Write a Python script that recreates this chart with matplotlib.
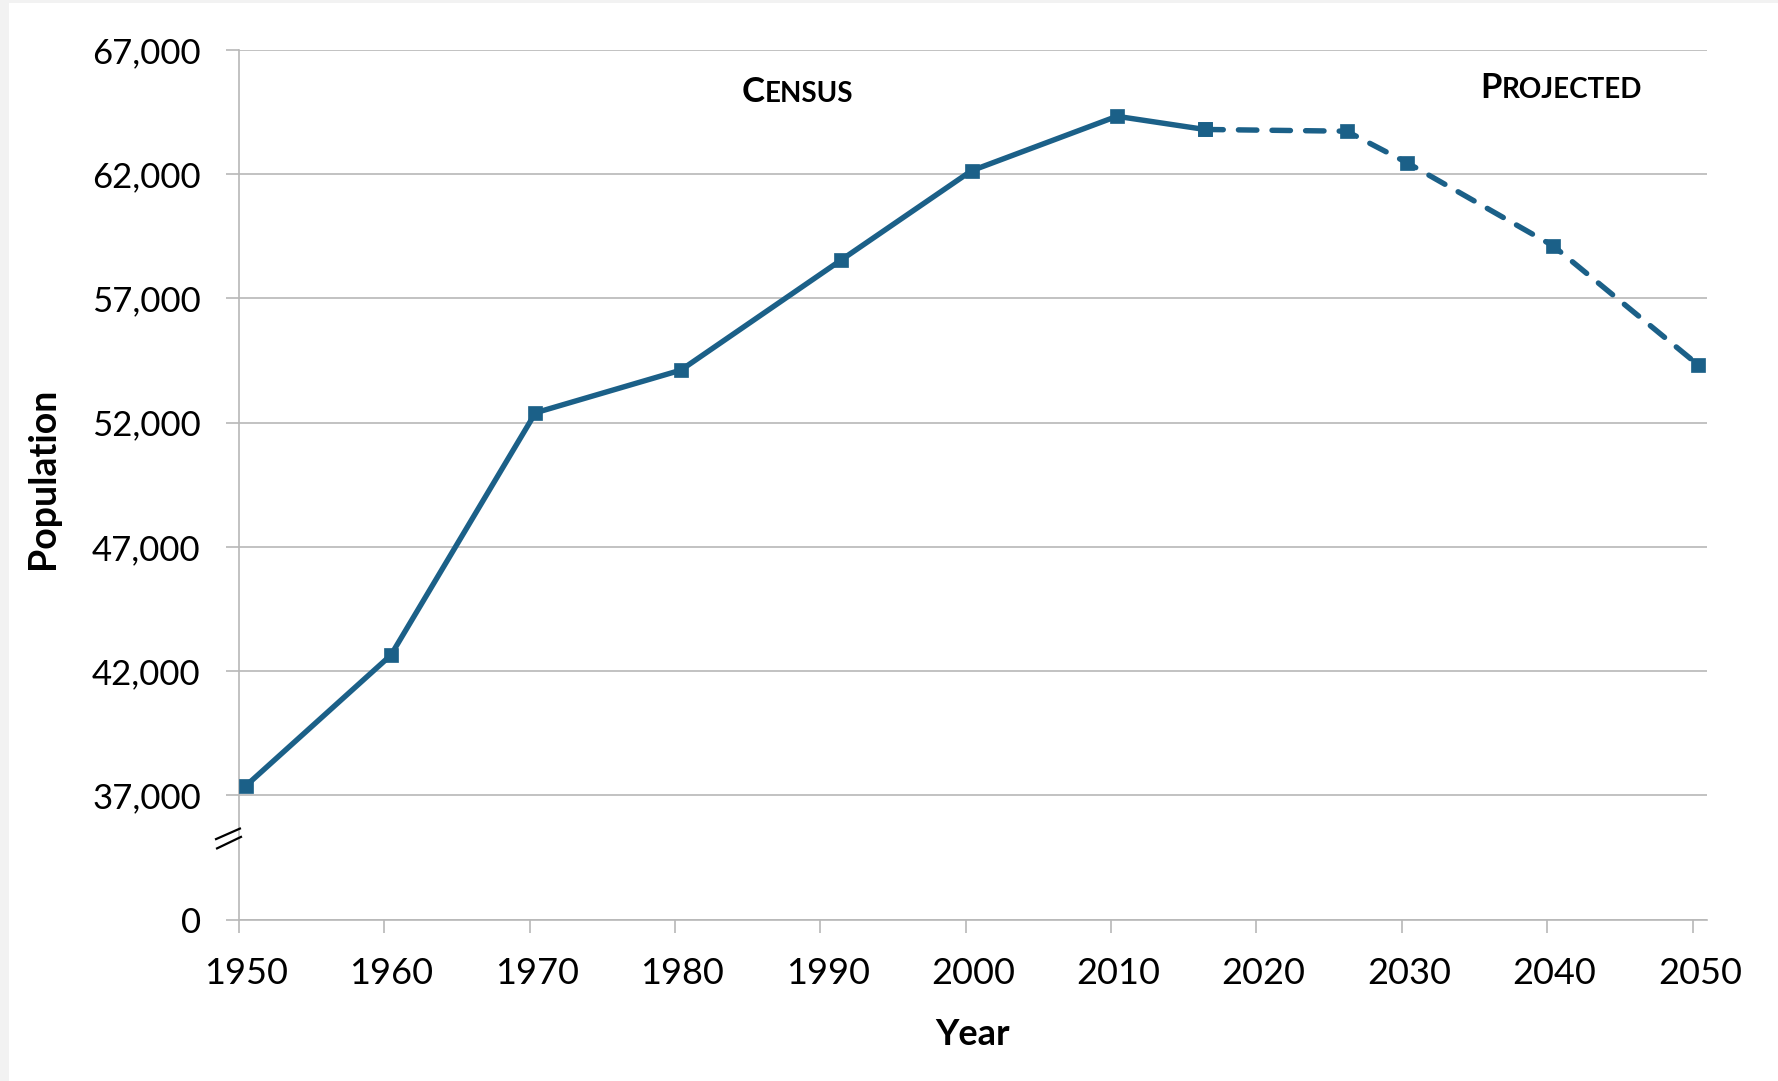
import matplotlib
matplotlib.use('Agg')
import matplotlib.pyplot as plt
from matplotlib.patches import Rectangle
from matplotlib.path import Path
from matplotlib.transforms import blended_transform_factory, offset_copy

# census counts and projections (x = point position in years)
years = [1950.45, 1960.45, 1970.4, 1980.4, 1991.4, 2000.4, 2010.4,
         2016.45, 2026.2, 2030.35, 2040.4, 2050.4]
population = [37375, 42645, 52400, 54115, 58535, 62140, 64330,
              63800, 63730, 62465, 59120, 54320]
split = 7  # first projected segment starts here

tick_years = list(range(1950, 2051, 10))
# broken axis: the bottom row (32,000 on the scale) is shown as 0
y_ticks = [32000, 37000, 42000, 47000, 52000, 57000, 62000, 67000]
y_labels = ['0', '37,000', '42,000', '47,000', '52,000', '57,000', '62,000', '67,000']

line_color = '#1b6088'
grid_color = '#b8b8b8'

plt.rcParams['font.family'] = ['Lato', 'DejaVu Sans']

fig = plt.figure(figsize=(17.78, 10.81), dpi=100, facecolor='#f2f2f2')
fig.patches.append(Rectangle((9 / 1778, 0), 1, 1 - 3 / 1081, transform=fig.transFigure,
                             facecolor='white', edgecolor='none', zorder=-10))
ax = fig.add_axes([0.1344, 0.1492, 0.8257, 0.8046])
ax.set_xlim(1950, 2051)
ax.set_ylim(32000, 67000)

ax.plot(years[:split + 1], population[:split + 1], color=line_color, lw=3.9,
        marker='s', ms=9.5, mew=0.5, solid_capstyle='round', zorder=3)
ax.plot(years[split:], population[split:], color=line_color, lw=3.9,
        ls=(0, (3.4, 2.8)), dash_capstyle='round',
        marker='s', ms=9.5, mew=0.5, zorder=3)

# axes styling
for s in ['top', 'right']:
    ax.spines[s].set_visible(False)
for s in ['left', 'bottom']:
    ax.spines[s].set_color(grid_color)
    ax.spines[s].set_linewidth(1.2)
ax.grid(axis='y', color=grid_color, lw=1.2)
ax.set_axisbelow(True)

ax.set_yticks(y_ticks)
ax.set_yticklabels(y_labels)
ax.set_xticks(tick_years)
ax.set_xticklabels([])
ax.set_xticks([y + 0.5 for y in tick_years], minor=True)
ax.set_xticklabels([str(y) for y in tick_years], minor=True)
ax.tick_params(axis='both', which='major', direction='out', length=9.5, width=1.2,
               color=grid_color, labelsize=25, labelcolor='black')
ax.tick_params(axis='y', pad=18)
ax.tick_params(axis='x', which='minor', length=0, labelsize=26, pad=27)

ax.set_xlabel('Year', fontsize=26, fontweight='bold', va='center')
ax.xaxis.set_label_coords(0.5, -0.1325)
ax.set_ylabel('Population', fontsize=27, fontweight='bold', va='center')
ax.yaxis.set_label_coords(-0.1335, 0.508)

# axis break mark
brk = Path([(-13, -1), (12, 10), (-12, -10), (13, 2)],
           [Path.MOVETO, Path.LINETO, Path.MOVETO, Path.LINETO])
trans = offset_copy(blended_transform_factory(ax.transAxes, ax.transData),
                    fig=fig, x=-10.5, y=0, units='dots')
ax.plot([0], [35300], marker=brk, ms=19.4, mec='black', mew=1.6,
        ls='none', transform=trans, clip_on=False, zorder=4)


def small_caps(x, y, word, big=25, small=20):
    t = ax.text(x, y, word[0], fontsize=big, fontweight='bold', ha='left', va='baseline')
    ax.annotate(word[1:], xy=(1, y), xycoords=(t, 'data'), fontsize=small,
                fontweight='bold', ha='left', va='baseline')


small_caps(1984.6, 64906, 'CENSUS')
small_caps(2035.4, 65086, 'PROJECTED')

fig.savefig('out.png', dpi=100, facecolor=fig.get_facecolor())
